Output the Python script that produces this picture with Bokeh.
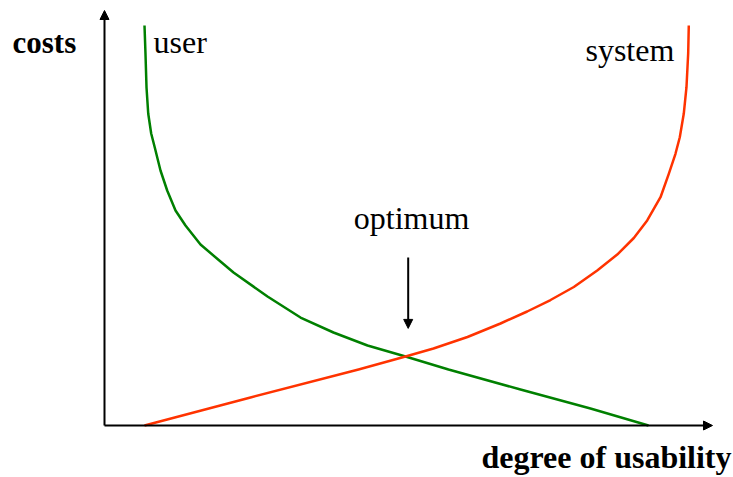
from bokeh.plotting import figure
from bokeh.models import Arrow, NormalHead, Label, Range1d
from bokeh.embed import file_html
from bokeh.resources import INLINE

# Data (degree of usability 0-100, costs 0-100)
user_x = [6.58, 6.74, 6.91, 7.19, 7.68, 8.27, 8.80, 9.21, 10.31, 11.68, 13.32, 15.79,
          18.59, 21.22, 26.81, 32.24, 37.66, 43.26, 49.51, 56.58, 68.42, 79.93, 89.47]
user_y = [96.39, 89.64, 81.45, 75.18, 70.36, 66.99, 63.86, 61.45, 56.63, 51.81, 48.19, 43.61,
          40.12, 36.87, 31.08, 26.02, 22.41, 19.28, 16.63, 13.49, 8.67, 4.10, 0.0]
system_x = [6.58, 24.01, 41.78, 49.51, 54.11, 59.70, 65.13, 69.52, 73.36, 77.19, 81.04,
            84.33, 87.06, 89.26, 91.45, 92.81, 93.91, 94.62, 95.28, 95.72, 96.00, 96.10]
system_y = [0.0, 6.75, 13.49, 16.63, 18.55, 21.33, 24.58, 27.47, 30.24, 33.37, 37.35,
            41.20, 45.18, 49.40, 55.01, 60.65, 65.47, 69.47, 75.18, 81.52, 89.64, 96.39]
optimum_x = 49.95
optimum_y = [40.5, 23.4]

p = figure(width=733, height=477, output_backend="svg", toolbar_location=None,
           x_range=Range1d(-17.105, 103.454), y_range=Range1d(-12.53, 102.41),
           min_border=0, min_border_left=0, min_border_right=0,
           min_border_top=0, min_border_bottom=0)
p.xaxis.visible = False
p.yaxis.visible = False
p.grid.visible = False
p.outline_line_color = None
p.background_fill_color = "white"
p.border_fill_color = "white"

p.line(user_x, user_y, line_color="#008000", line_width=2.5, line_join="round")
p.line(system_x, system_y, line_color="#ff3300", line_width=2.5, line_join="round")

def head():
    return NormalHead(size=9, fill_color="black", line_color="black", line_width=1)

# axes with arrows
p.add_layout(Arrow(end=head(), x_start=0, y_start=0, x_end=100, y_end=0,
                   line_color="black", line_width=2))
p.add_layout(Arrow(end=head(), x_start=0, y_start=0, x_end=0, y_end=100,
                   line_color="black", line_width=2))
# optimum arrow
p.add_layout(Arrow(end=head(), x_start=optimum_x, y_start=optimum_y[0],
                   x_end=optimum_x, y_end=optimum_y[1],
                   line_color="black", line_width=2))

font = "Liberation Serif"
dy = 2.7
p.add_layout(Label(x=-15.13, y=89.6 + dy, text="costs", text_font=font, text_font_size="31px",
                   text_font_style="bold", text_baseline="alphabetic", text_color="black"))
p.add_layout(Label(x=8.06, y=89.6 + dy, text="user", text_font=font, text_font_size="32px",
                   text_baseline="alphabetic", text_color="black"))
p.add_layout(Label(x=79.1, y=87.7 + dy, text="system", text_font=font, text_font_size="32px",
                   text_baseline="alphabetic", text_color="black"))
p.add_layout(Label(x=50.5, y=47.2 + dy, text="optimum", text_font=font, text_font_size="32px",
                   text_baseline="alphabetic", text_align="center", text_color="black"))
p.add_layout(Label(x=62.0, y=-10.84 + dy + 0.5, text="degree of usability", text_font=font,
                   text_font_size="32px", text_font_style="bold",
                   text_baseline="alphabetic", text_color="black"))

open("out.html", "w").write(file_html(p, INLINE))
